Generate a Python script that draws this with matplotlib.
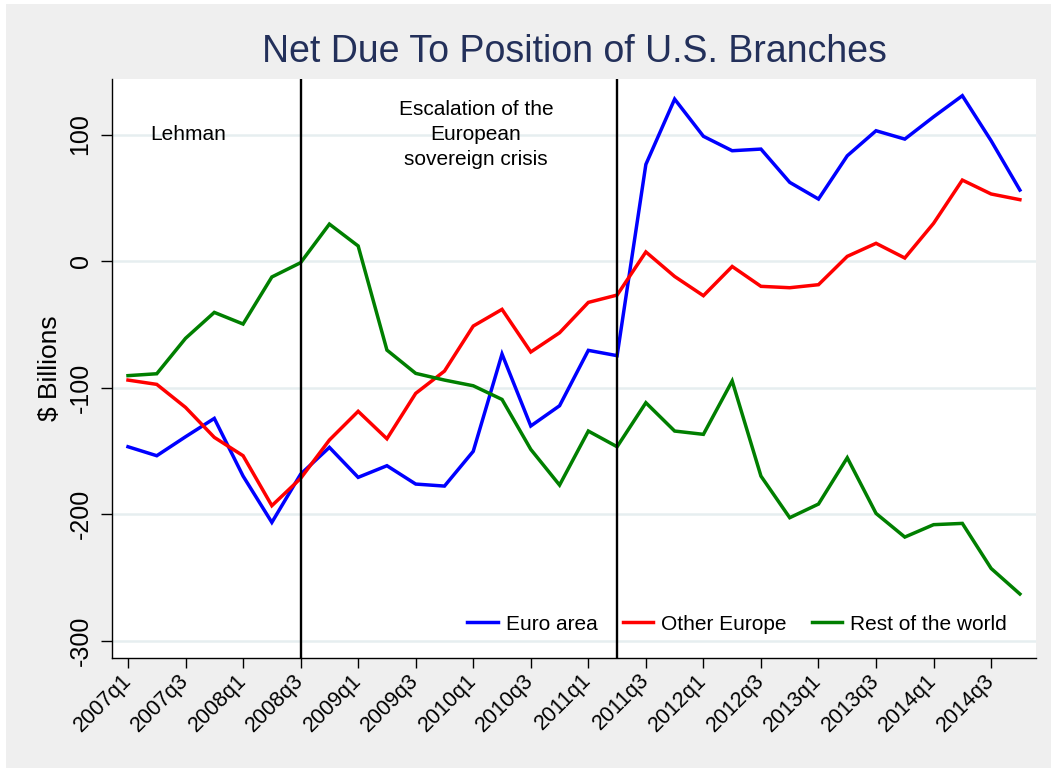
import matplotlib
matplotlib.use("Agg")
import matplotlib.pyplot as plt
from matplotlib.patches import Rectangle

plt.rcParams['font.family'] = ['Liberation Sans', 'DejaVu Sans']

quarters = [f"{y}q{q}" for y in range(2007, 2015) for q in range(1, 5)]

euro_area = [-146.8, -153.9, -138.9, -124.4, -170.0, -206.6, -168.5, -147.3,
             -171.0, -161.8, -176.3, -177.9, -150.4, -73.5, -130.4, -114.4,
             -70.6, -74.8, 76.4, 128.0, 98.6, 87.2, 88.5, 62.2,
             49.0, 83.2, 103.0, 96.4, 114.0, 130.7, 95.1, 56.1]
other_europe = [-94.1, -97.5, -115.7, -139.4, -153.9, -193.4, -171.8, -141.5,
                -118.8, -140.5, -104.6, -87.0, -51.4, -38.2, -71.9, -56.7,
                -32.7, -26.9, 7.2, -12.2, -27.4, -4.3, -20.0, -21.1,
                -18.7, 3.7, 14.0, 2.4, 29.8, 64.0, 53.0, 48.5]
rest_of_world = [-90.6, -89.1, -61.1, -40.6, -49.8, -12.6, -1.3, 29.2,
                 11.9, -70.4, -88.8, -94.1, -98.6, -109.4, -148.9, -177.1,
                 -134.4, -146.8, -112.0, -134.4, -137.0, -94.8, -170.0, -202.9,
                 -192.1, -155.5, -199.5, -218.2, -208.4, -207.4, -243.0, -263.2]

series_names = ["Euro area", "Other Europe", "Rest of the world"]
series_colors = ["#0000FF", "#FF0000", "#007F00"]

event_quarters = ["2008q3", "2011q2"]
event_labels = ["Lehman", "Escalation of the\nEuropean\nsovereign crisis"]
event_label_x = [2.1, 12.1]
event_label_y = [100, 100]

yticks = [100, 0, -100, -200, -300]

W, H = 1051, 770
fig = plt.figure(figsize=(W / 100, H / 100), dpi=100, facecolor="white")
fig.patches.append(Rectangle((6 / W, 2 / H), 1 - 6 / W, 764 / H,
                             transform=fig.transFigure, facecolor="#EFEFEF",
                             edgecolor="none", zorder=-10))

ax = fig.add_axes([112 / W, (770 - 658) / H, 924 / W, 579 / H])
ax.set_facecolor("white")

x = list(range(len(quarters)))
for vals, name, col in zip([euro_area, other_europe, rest_of_world], series_names, series_colors):
    ax.plot(x, vals, color=col, lw=2.5, label=name, zorder=3, solid_joinstyle='miter')

for q in event_quarters:
    ax.axvline(quarters.index(q), color="black", lw=1.7, zorder=4)

for tx, ty, lab in zip(event_label_x, event_label_y, event_labels):
    ax.text(tx, ty, lab, ha="center", va="center", fontsize=15, color="black",
            linespacing=1.38, zorder=5)

ax.set_xlim(-0.556, 31.56)
ax.set_ylim(-313.8, 143.9)

ax.set_yticks(yticks)
ax.set_yticklabels([str(v) for v in yticks], rotation=90, va="center", fontsize=18)
ax.set_xticks(x[::2])
ax.set_xticklabels(quarters[::2], rotation=45, ha="right", va="center",
                   rotation_mode="anchor", fontsize=15.5)

ax.grid(axis="y", color="#E6EEF0", lw=1.8, zorder=0)
ax.grid(axis="x", visible=False)
ax.set_axisbelow(True)

for s in ["top", "right"]:
    ax.spines[s].set_visible(False)
for s in ["left", "bottom"]:
    ax.spines[s].set_color("black")
    ax.spines[s].set_linewidth(1.0)
ax.tick_params(axis="y", direction="out", length=8, width=1, pad=6, colors="black")
ax.tick_params(axis="x", direction="out", length=7, width=1, pad=7, colors="black")

ax.set_ylabel("$ Billions", fontsize=19, va="center")
ax.yaxis.set_label_coords(-0.067, 0.5)

fig.text((112 + 1036) / 2 / W, 1 - 52 / H, "Net Due To Position of U.S. Branches",
         ha="center", va="center", fontsize=27, color="#23305A")

leg = ax.legend(loc="center right", bbox_to_anchor=(0.9686, 0.0587), ncol=3,
                frameon=False, fontsize=15, handlelength=1.45, handletextpad=0.4,
                columnspacing=1.2, borderpad=0, borderaxespad=0)

fig.savefig("out.png", dpi=100, facecolor=fig.get_facecolor())
